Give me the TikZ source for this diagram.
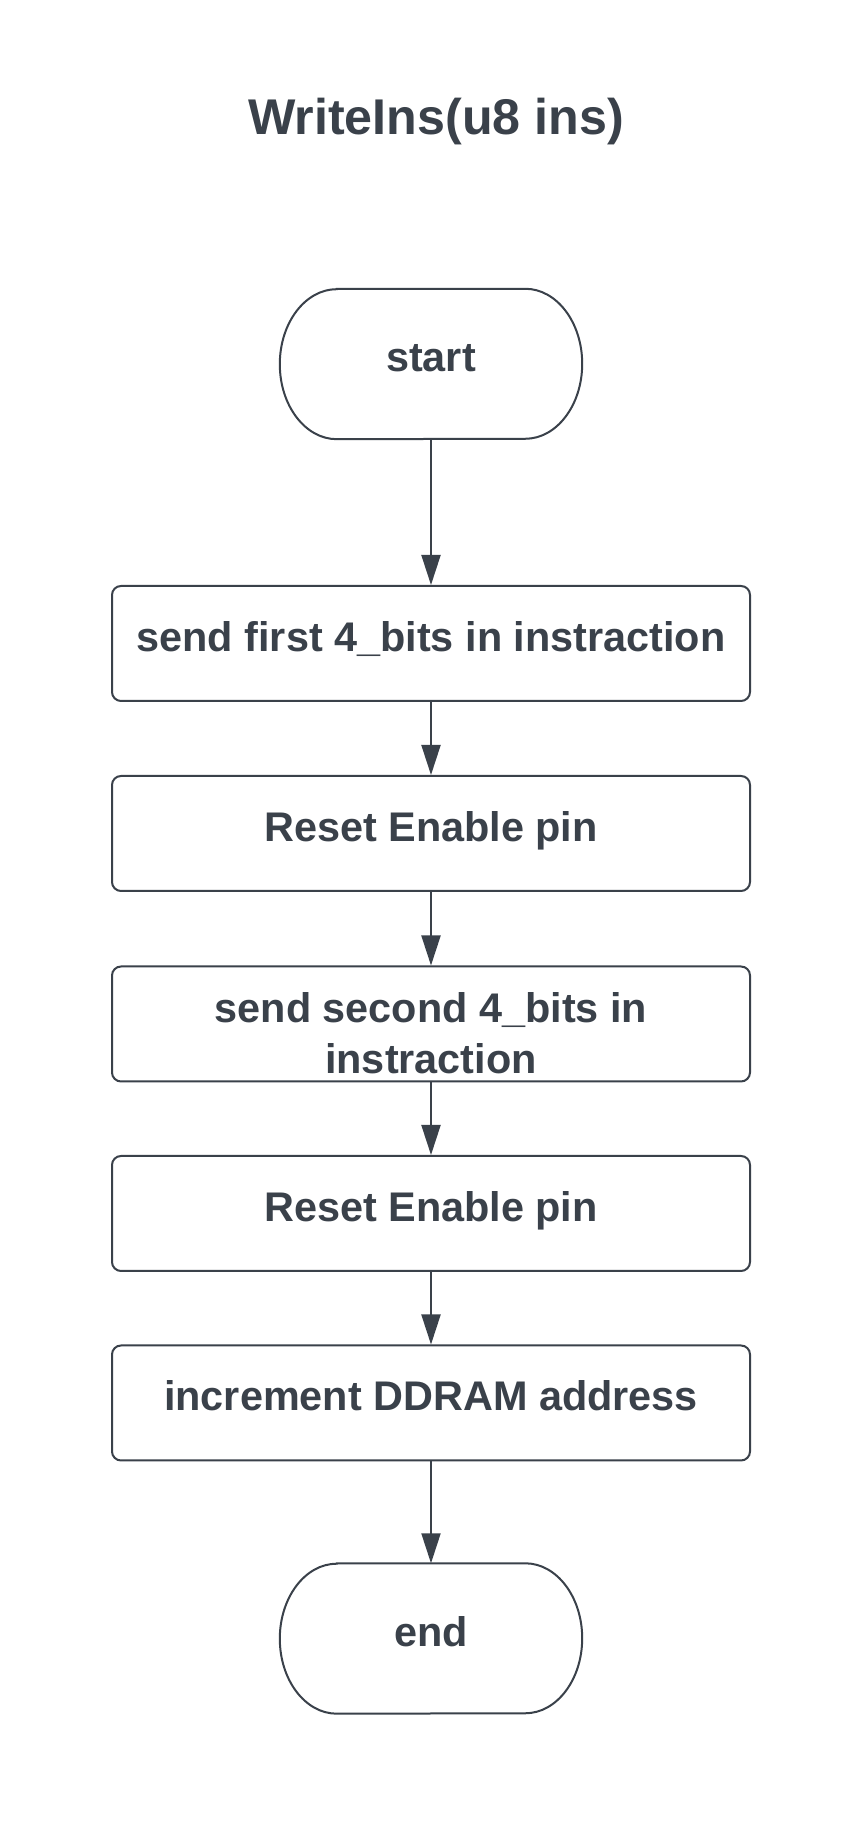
\documentclass[tikz,border=0pt]{standalone}
\usepackage{fontspec}
\setmainfont{Liberation Sans}
\usetikzlibrary{arrows.meta,calc}
\definecolor{ink}{HTML}{3A414A}
\begin{document}
\begin{tikzpicture}[x=1pt,y=1pt,
  every node/.style={text=ink,font=\bfseries\fontsize{41.4}{51}\selectfont},
  stepbox/.style={draw=ink,line width=2pt,rounded corners=9pt,
    minimum width=638pt,minimum height=115pt,inner sep=0pt,align=center,
    text height=30pt,text depth=14pt},
  terminal/.style={minimum width=302pt,minimum height=150pt,inner sep=0pt,
    text height=30pt,text depth=14pt},
  flow/.style={draw=ink,line width=2pt,-{Triangle[length=30pt,width=19pt]}}]
  \useasboundingbox (0,0) rectangle (863,1826);
  \fill[white] (0,0) rectangle (863,1826);

  % title
  \node[font=\bfseries\fontsize{50.2}{60}\selectfont] (title) at (436,1704.5) {WriteIns(u8 ins)};

  % terminals (drawn below as elliptical-cornered outlines)
  \node[terminal] (start) at (431,1462) {start};
  \node[terminal] (stop) at (431,187.5) {end};
  \foreach \t in {start,stop}{
    \draw[ink,line width=2pt]
      ($(\t.north west)+(57,0)$) -- ($(\t.north east)+(-57,0)$)
      arc[start angle=90,end angle=0,x radius=57,y radius=75]
      arc[start angle=0,end angle=-90,x radius=57,y radius=75]
      -- ($(\t.south west)+(57,0)$)
      arc[start angle=270,end angle=180,x radius=57,y radius=75]
      arc[start angle=180,end angle=90,x radius=57,y radius=75]
      -- cycle;
  }

  % process steps
  \node[stepbox] (s1) at (431,1182.5) {send first 4\_bits in instraction};
  \node[stepbox] (s2) at (431,992.5) {Reset Enable pin};
  \node[stepbox,text height=100pt,text depth=1pt] (s3) at (431,802) {send second 4\_bits in\\instraction};
  \node[stepbox] (s4) at (431,612.5) {Reset Enable pin};
  \node[stepbox] (s5) at (431,423) {increment DDRAM address};

  % connectors
  \draw[flow] (start.south) -- (s1.north);
  \draw[flow] (s1) -- (s2);
  \draw[flow] (s2) -- (s3);
  \draw[flow] (s3) -- (s4);
  \draw[flow] (s4) -- (s5);
  \draw[flow] (s5.south) -- (stop.north);
\end{tikzpicture}
\end{document}
